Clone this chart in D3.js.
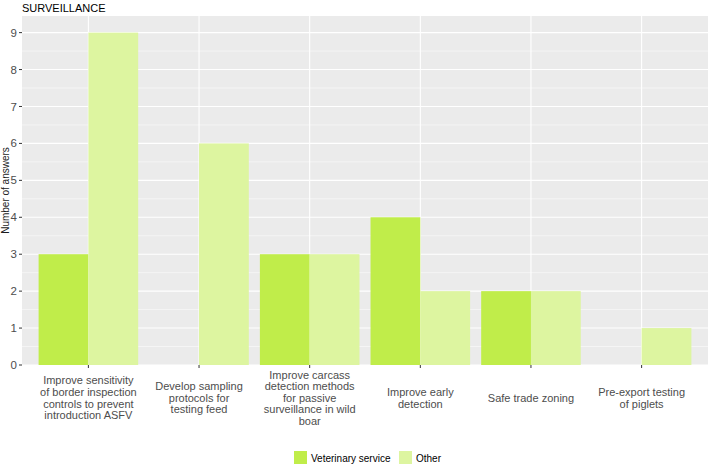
<!DOCTYPE html>
<html><head><meta charset="utf-8">
<script src="https://cdn.jsdelivr.net/npm/d3@7"></script>
<style>body{margin:0;background:#fff}svg{display:block}text{font-family:Arial,"Liberation Sans",sans-serif}</style>
</head><body>
<svg id="c" width="709" height="464"></svg>
<script>
const categories = [
  ["Improve sensitivity","of border inspection","controls to prevent","introduction ASFV"],
  ["Develop sampling","protocols for","testing feed"],
  ["Improve carcass","detection methods","for passive","surveillance in wild","boar"],
  ["Improve early","detection"],
  ["Safe trade zoning"],
  ["Pre-export testing","of piglets"]
];
const seriesNames = ["Veterinary service","Other"];
const vetValues = [3, 0, 3, 4, 2, 0];
const otherValues = [9, 6, 3, 2, 2, 1];
const yTicks = [0,1,2,3,4,5,6,7,8,9];
const colors = ["#C0ED4A","#DDF5A0"];

const svg = d3.select("#c");
const L = 22, R = 708, T = 16, B = 365;
const idx = d3.range(categories.length);
const x = d3.scaleLinear().domain([-0.6, categories.length - 0.4]).range([L, R]);
const y = d3.scaleLinear().domain([0, 9.45]).range([B, T]);

svg.append("rect").attr("x", L).attr("y", T).attr("width", R - L).attr("height", B - T).attr("fill", "#EBEBEB");
const g = svg.append("g");
d3.range(0.5, 9.5, 1).forEach(v => g.append("line").attr("x1", L).attr("x2", R).attr("y1", y(v)).attr("y2", y(v)).attr("stroke", "#fff").attr("stroke-width", 0.5));
yTicks.forEach(v => g.append("line").attr("x1", L).attr("x2", R).attr("y1", y(v)).attr("y2", y(v)).attr("stroke", "#fff").attr("stroke-width", 1.1));
idx.forEach(i => g.append("line").attr("x1", x(i)).attr("x2", x(i)).attr("y1", T).attr("y2", B).attr("stroke", "#fff").attr("stroke-width", 1.1));

const bw = 0.45;
const series = [vetValues, otherValues];
series.forEach((vals, s) => {
  svg.append("g").selectAll("rect").data(vals).join("rect")
    .attr("x", (d, i) => x(i - 0.45 + s * bw))
    .attr("width", x(bw) - x(0))
    .attr("y", d => y(d))
    .attr("height", d => y(0) - y(d))
    .attr("fill", colors[s]);
});

const ya = svg.append("g");
yTicks.forEach(v => {
  ya.append("line").attr("x1", L - 3).attr("x2", L).attr("y1", y(v)).attr("y2", y(v)).attr("stroke", "#333").attr("stroke-width", 1);
  ya.append("text").attr("x", L - 5).attr("y", y(v)).attr("dy", "0.35em").attr("text-anchor", "end").attr("font-size", 11.5).attr("fill", "#4D4D4D").text(v);
});
svg.append("text").attr("transform", `translate(9,${(T + B) / 2}) rotate(-90)`).attr("text-anchor", "middle").attr("font-size", 10).attr("fill", "#1a1a1a").text("Number of answers");

const xa = svg.append("g");
const lh = 11.6, mid = 398;
idx.forEach(i => {
  xa.append("line").attr("x1", x(i)).attr("x2", x(i)).attr("y1", B).attr("y2", B + 3).attr("stroke", "#333");
  const lines = categories[i];
  const t = xa.append("text").attr("text-anchor", "middle").attr("font-size", 11).attr("fill", "#4D4D4D");
  const start = mid - (lines.length - 1) * lh / 2;
  lines.forEach((ln, k) => t.append("tspan").attr("x", x(i)).attr("y", start + k * lh).attr("dy", "0.35em").text(ln));
});

svg.append("text").attr("x", 22).attr("y", 12).attr("font-size", 11).attr("fill", "#000").text("SURVEILLANCE");

const leg = svg.append("g");
const legItems = [{x: 294, tx: 311}, {x: 399, tx: 416}];
seriesNames.forEach((n, s) => {
  leg.append("rect").attr("x", legItems[s].x).attr("y", 451).attr("width", 13).attr("height", 13).attr("fill", colors[s]);
  leg.append("text").attr("x", legItems[s].tx).attr("y", 458).attr("dy", "0.35em").attr("font-size", 10).attr("fill", "#000").text(n);
});
</script>
</body></html>
